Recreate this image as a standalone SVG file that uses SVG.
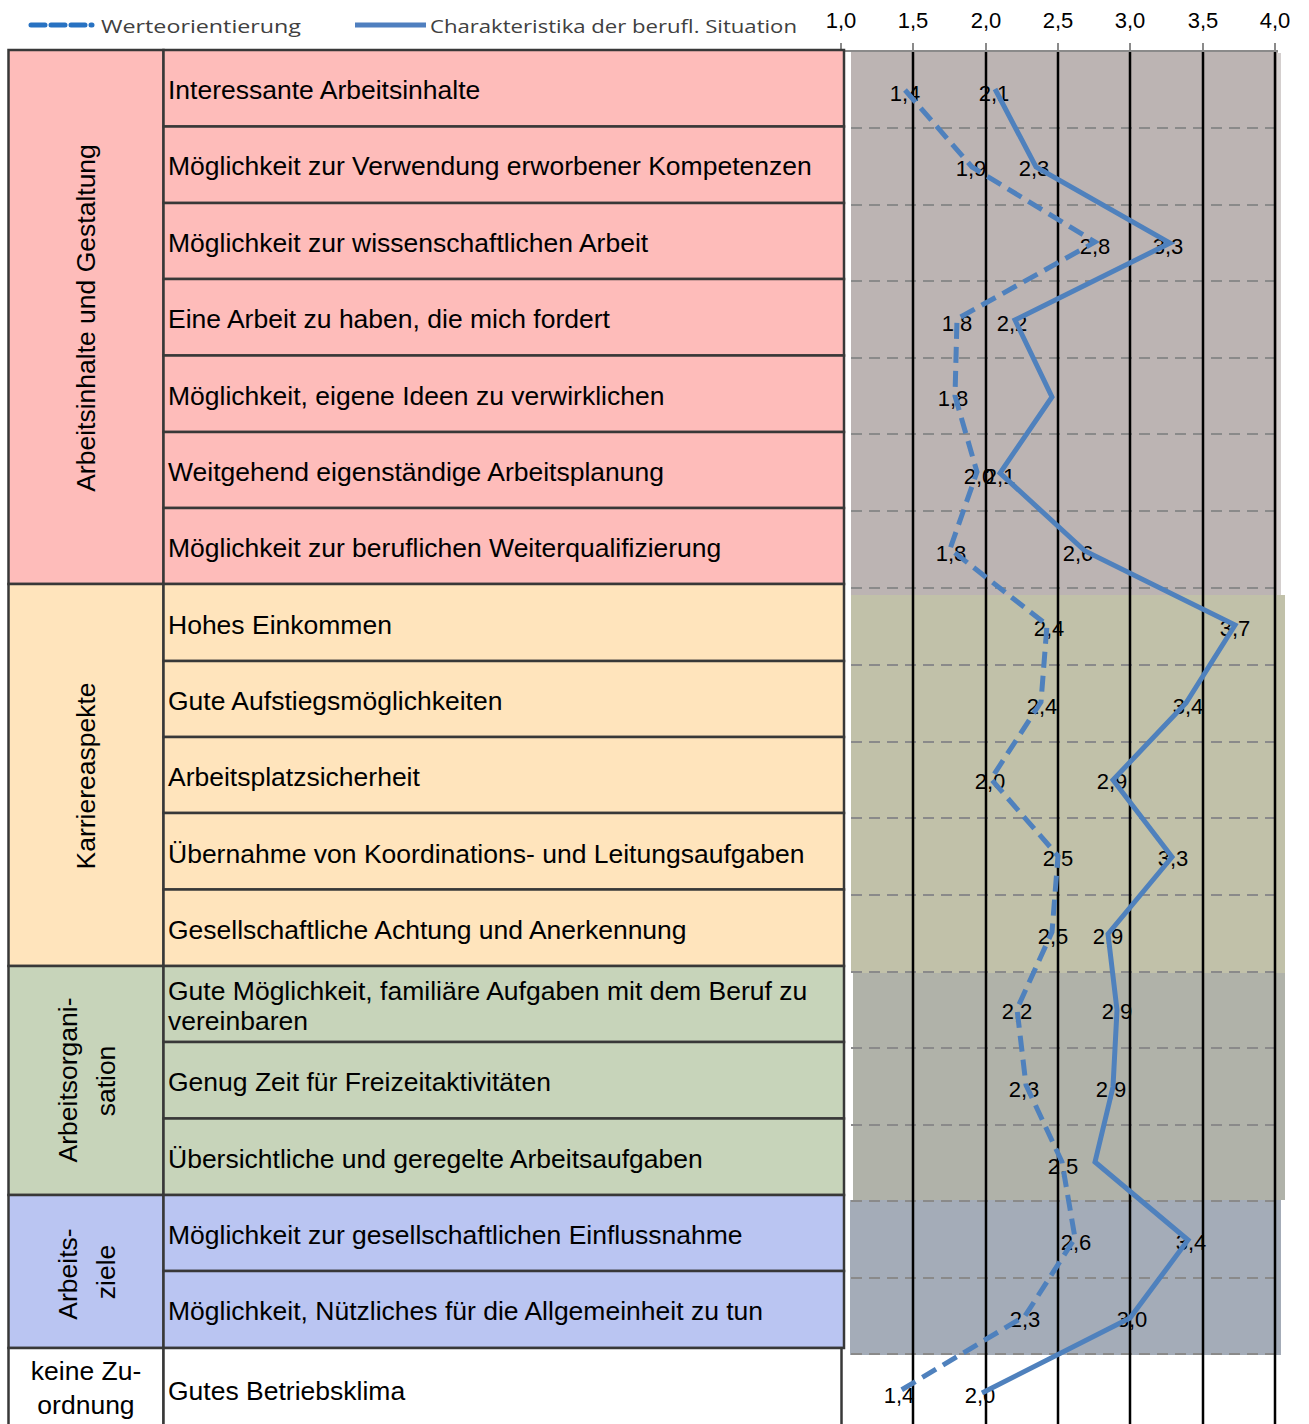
<svg xmlns="http://www.w3.org/2000/svg" width="1309" height="1424" viewBox="0 0 1309 1424">
<style>
.cell{stroke:#383838;stroke-width:2.5}
.c1{fill:#FEBCBA}.c2{fill:#FFE4BC}.c3{fill:#C7D4BA}.c4{fill:#BAC5F2}.c5{fill:#FFFFFF}
.txt{font-family:"Liberation Sans",Arial,sans-serif;font-size:26.5px;fill:#000}
.cat{font-family:"Liberation Sans",Arial,sans-serif;font-size:26.5px;fill:#000;text-anchor:middle}
.ax{font-family:"Liberation Sans",Arial,sans-serif;font-size:22px;fill:#000;text-anchor:middle}
.val{font-family:"Liberation Sans",Arial,sans-serif;font-size:22px;fill:#000;text-anchor:middle}
.leg{font-family:"Open Sans","Noto Sans",sans-serif;font-size:18px;fill:#404040}
.gv{stroke:#000;stroke-width:2.5}
.gh{stroke:#8a8a8a;stroke-width:2;stroke-dasharray:11 7}
.tick{stroke:#8a8a8a;stroke-width:2}
.s1{fill:none;stroke:#4F81BD;stroke-width:5;stroke-linejoin:miter;stroke-dasharray:16 8}
.s2{fill:none;stroke:#4F81BD;stroke-width:5;stroke-linejoin:miter}
</style>

<!-- Legend -->
<g id="legend">
  <line x1="31" y1="25" x2="92" y2="25" stroke="#2872C2" stroke-width="5" stroke-dasharray="14 6" stroke-linecap="round"/>
  <text class="leg" x="101" y="33" textLength="200" lengthAdjust="spacingAndGlyphs">Werteorientierung</text>
  <line x1="355" y1="25" x2="426" y2="25" stroke="#4F7FBF" stroke-width="5"/>
  <text class="leg" x="430" y="33" textLength="367" lengthAdjust="spacingAndGlyphs">Charakteristika der berufl. Situation</text>
</g>

<!-- Axis labels -->
<g id="axis">
  <text class="ax" x="841" y="28">1,0</text>
  <text class="ax" x="913" y="28">1,5</text>
  <text class="ax" x="986" y="28">2,0</text>
  <text class="ax" x="1058" y="28">2,5</text>
  <text class="ax" x="1130" y="28">3,0</text>
  <text class="ax" x="1203" y="28">3,5</text>
  <text class="ax" x="1275" y="28">4,0</text>
</g>

<!-- Chart backgrounds -->
<g id="chart-bg">
  <rect x="851" y="51" width="427" height="544" fill="#BCB4B3"/>
  <rect x="1277" y="53" width="4" height="542" fill="#D4CFCE"/>
  <rect x="851" y="595" width="434" height="378" fill="#C1C1A9"/>
  <rect x="853" y="973" width="432" height="227" fill="#B0B2A9"/>
  <rect x="850" y="1200" width="431" height="155" fill="#A4ACB8"/>
</g>

<!-- Grid -->
<g id="grid">
  <g class="gh">
    <line x1="851" y1="128" x2="1275" y2="128"/>
    <line x1="851" y1="205" x2="1275" y2="205"/>
    <line x1="851" y1="281" x2="1275" y2="281"/>
    <line x1="851" y1="358" x2="1275" y2="358"/>
    <line x1="851" y1="434" x2="1275" y2="434"/>
    <line x1="851" y1="511" x2="1275" y2="511"/>
    <line x1="851" y1="588" x2="1275" y2="588"/>
    <line x1="851" y1="665" x2="1275" y2="665"/>
    <line x1="851" y1="742" x2="1275" y2="742"/>
    <line x1="851" y1="818" x2="1275" y2="818"/>
    <line x1="851" y1="895" x2="1275" y2="895"/>
    <line x1="851" y1="972" x2="1275" y2="972"/>
    <line x1="851" y1="1048" x2="1275" y2="1048"/>
    <line x1="851" y1="1125" x2="1275" y2="1125"/>
    <line x1="851" y1="1201" x2="1275" y2="1201"/>
    <line x1="851" y1="1278" x2="1275" y2="1278"/>
    <line x1="851" y1="1354" x2="1275" y2="1354"/>
  </g>
  <g class="tick">
    <line x1="841" y1="43" x2="841" y2="51"/>
    <line x1="913" y1="43" x2="913" y2="51"/>
    <line x1="986" y1="43" x2="986" y2="51"/>
    <line x1="1058" y1="43" x2="1058" y2="51"/>
    <line x1="1130" y1="43" x2="1130" y2="51"/>
    <line x1="1203" y1="43" x2="1203" y2="51"/>
    <line x1="1275" y1="43" x2="1275" y2="51"/>
    <line x1="841" y1="51" x2="1278" y2="51"/>
  </g>
  <g class="gv">
    <line x1="913" y1="52" x2="913" y2="1424"/>
    <line x1="986" y1="52" x2="986" y2="1424"/>
    <line x1="1058" y1="52" x2="1058" y2="1424"/>
    <line x1="1130" y1="52" x2="1130" y2="1424"/>
    <line x1="1203" y1="52" x2="1203" y2="1424"/>
    <line x1="1275" y1="52" x2="1275" y2="1424"/>
  </g>
</g>

<!-- Table: categories -->
<g id="cat-arbeitsinhalte">
  <rect class="cell c1" x="8.5" y="50" width="155" height="534"/>
  <text class="cat" transform="translate(95,318) rotate(-90)">Arbeitsinhalte und Gestaltung</text>
</g>
<g id="cat-karriere">
  <rect class="cell c2" x="8.5" y="584" width="155" height="382"/>
  <text class="cat" transform="translate(95,776) rotate(-90)">Karriereaspekte</text>
</g>
<g id="cat-arbeitsorganisation">
  <rect class="cell c3" x="8.5" y="966" width="155" height="229"/>
  <text class="cat" transform="translate(77,1080) rotate(-90)">Arbeitsorgani-</text>
  <text class="cat" transform="translate(115,1081) rotate(-90)">sation</text>
</g>
<g id="cat-arbeitsziele">
  <rect class="cell c4" x="8.5" y="1195" width="155" height="153"/>
  <text class="cat" transform="translate(77,1274) rotate(-90)">Arbeits-</text>
  <text class="cat" transform="translate(115,1272) rotate(-90)">ziele</text>
</g>
<g id="cat-keine">
  <rect class="cell c5" x="8.5" y="1348" width="155" height="90"/>
  <text class="cat" x="86" y="1380">keine Zu-</text>
  <text class="cat" x="86" y="1414">ordnung</text>
</g>

<!-- Table: items -->
<g id="item-01"><rect class="cell c1" x="163.5" y="50" width="680.5" height="76.5"/><text class="txt" x="168" y="99">Interessante Arbeitsinhalte</text></g>
<g id="item-02"><rect class="cell c1" x="163.5" y="126.5" width="680.5" height="76.5"/><text class="txt" x="168" y="175">Möglichkeit zur Verwendung erworbener Kompetenzen</text></g>
<g id="item-03"><rect class="cell c1" x="163.5" y="203" width="680.5" height="76"/><text class="txt" x="168" y="252">Möglichkeit zur wissenschaftlichen Arbeit</text></g>
<g id="item-04"><rect class="cell c1" x="163.5" y="279" width="680.5" height="76.5"/><text class="txt" x="168" y="328">Eine Arbeit zu haben, die mich fordert</text></g>
<g id="item-05"><rect class="cell c1" x="163.5" y="355.5" width="680.5" height="76.5"/><text class="txt" x="168" y="404.5">Möglichkeit, eigene Ideen zu verwirklichen</text></g>
<g id="item-06"><rect class="cell c1" x="163.5" y="432" width="680.5" height="76"/><text class="txt" x="168" y="481">Weitgehend eigenständige Arbeitsplanung</text></g>
<g id="item-07"><rect class="cell c1" x="163.5" y="508" width="680.5" height="76"/><text class="txt" x="168" y="557">Möglichkeit zur beruflichen Weiterqualifizierung</text></g>
<g id="item-08"><rect class="cell c2" x="163.5" y="584" width="680.5" height="77"/><text class="txt" x="168" y="633.5">Hohes Einkommen</text></g>
<g id="item-09"><rect class="cell c2" x="163.5" y="661" width="680.5" height="76"/><text class="txt" x="168" y="710">Gute Aufstiegsmöglichkeiten</text></g>
<g id="item-10"><rect class="cell c2" x="163.5" y="737" width="680.5" height="76"/><text class="txt" x="168" y="786">Arbeitsplatzsicherheit</text></g>
<g id="item-11"><rect class="cell c2" x="163.5" y="813" width="680.5" height="76.5"/><text class="txt" x="168" y="862.5">Übernahme von Koordinations- und Leitungsaufgaben</text></g>
<g id="item-12"><rect class="cell c2" x="163.5" y="889.5" width="680.5" height="76.5"/><text class="txt" x="168" y="939">Gesellschaftliche Achtung und Anerkennung</text></g>
<g id="item-13"><rect class="cell c3" x="163.5" y="966" width="680.5" height="76"/><text class="txt" x="168" y="1000">Gute Möglichkeit, familiäre Aufgaben mit dem Beruf zu</text><text class="txt" x="168" y="1030">vereinbaren</text></g>
<g id="item-14"><rect class="cell c3" x="163.5" y="1042" width="680.5" height="76.5"/><text class="txt" x="168" y="1091">Genug Zeit für Freizeitaktivitäten</text></g>
<g id="item-15"><rect class="cell c3" x="163.5" y="1118.5" width="680.5" height="76.5"/><text class="txt" x="168" y="1168">Übersichtliche und geregelte Arbeitsaufgaben</text></g>
<g id="item-16"><rect class="cell c4" x="163.5" y="1195" width="680.5" height="76"/><text class="txt" x="168" y="1244">Möglichkeit zur gesellschaftlichen Einflussnahme</text></g>
<g id="item-17"><rect class="cell c4" x="163.5" y="1271" width="680.5" height="77"/><text class="txt" x="168" y="1320">Möglichkeit, Nützliches für die Allgemeinheit zu tun</text></g>
<g id="item-18"><rect class="cell c5" x="163.5" y="1348" width="678" height="90"/><text class="txt" x="168" y="1400">Gutes Betriebsklima</text></g>

<!-- Data labels -->
<g id="labels">
  <text class="val" x="905" y="101">1,4</text><text class="val" x="994" y="101">2,1</text>
  <text class="val" x="971" y="176">1,9</text><text class="val" x="1034" y="176">2,3</text>
  <text class="val" x="1095" y="254">2,8</text><text class="val" x="1168" y="254">3,3</text>
  <text class="val" x="957" y="331">1,8</text><text class="val" x="1012" y="331">2,2</text>
  <text class="val" x="953" y="406">1,8</text>
  <text class="val" x="979" y="484">2,0</text><text class="val" x="1000" y="484">2,1</text>
  <text class="val" x="951" y="561">1,8</text><text class="val" x="1078" y="561">2,6</text>
  <text class="val" x="1049" y="636">2,4</text><text class="val" x="1235" y="636">3,7</text>
  <text class="val" x="1042" y="714">2,4</text><text class="val" x="1188" y="714">3,4</text>
  <text class="val" x="990" y="789">2,0</text><text class="val" x="1112" y="789">2,9</text>
  <text class="val" x="1058" y="866">2,5</text><text class="val" x="1173" y="866">3,3</text>
  <text class="val" x="1053" y="944">2,5</text><text class="val" x="1108" y="944">2,9</text>
  <text class="val" x="1017" y="1019">2,2</text><text class="val" x="1117" y="1019">2,9</text>
  <text class="val" x="1024" y="1097">2,3</text><text class="val" x="1111" y="1097">2,9</text>
  <text class="val" x="1063" y="1174">2,5</text>
  <text class="val" x="1076" y="1250">2,6</text><text class="val" x="1191" y="1250">3,4</text>
  <text class="val" x="1025" y="1327">2,3</text><text class="val" x="1132" y="1327">3,0</text>
  <text class="val" x="899" y="1403">1,4</text><text class="val" x="980" y="1403">2,0</text>
</g>

<!-- Series lines -->
<g id="connectors">
  <polyline class="s1" points="905,90 972,167 1095,242 957,319 955,396 977,472 950,549 1047,625 1041,702 991,779 1058,856 1052,932 1017,1009 1026,1085 1062,1162 1075,1238 1025,1316 898,1392"/>
  <polyline class="s2" points="995,89 1036,167 1170,243 1015,320 1052,397 1000,473 1085,551 1235,625 1186,703 1113,780 1172,857 1108,934 1117,1010 1113,1087 1095,1162 1188,1240 1130,1318 982,1393"/>
</g>
</svg>
